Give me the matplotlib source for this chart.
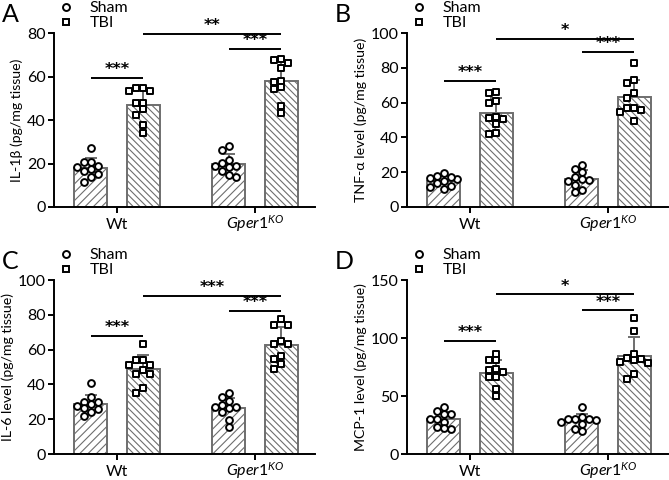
import numpy as np
import matplotlib
matplotlib.use('Agg')
import matplotlib.pyplot as plt
from matplotlib.lines import Line2D

plt.rcParams['font.family'] = ['Lato', 'DejaVu Sans']
plt.rcParams['mathtext.fontset'] = 'custom'
plt.rcParams['mathtext.it'] = 'Lato:italic'
plt.rcParams['mathtext.rm'] = 'Lato'
plt.rcParams['hatch.linewidth'] = 0.8

# =============================================================================
# data, 10 animals per group
# =============================================================================
groups = ['Wt', r'$\mathit{Gper1}^{\mathit{KO}}$']
conditions = ['Sham', 'TBI']
panel_letters = ['A', 'B', 'C', 'D']
ylabels = ['IL-1β (pg/mg tissue)', 'TNF-α level (pg/mg tissue)',
           'IL-6 level (pg/mg tissue)', 'MCP-1 level (pg/mg tissue)']
ymax = [80, 100, 100, 150]
ystep = [20, 20, 20, 50]

il1b_wt_sham = [27.0, 19.0, 18.2, 20.6, 20.6, 15.2, 17.5, 16.7, 13.9, 11.3]
il1b_wt_tbi = [54.9, 53.3, 53.3, 54.9, 47.7, 48.0, 44.9, 42.3, 37.7, 34.2]
il1b_ko_sham = [28.0, 26.2, 20.1, 21.6, 19.0, 18.5, 19.0, 16.7, 13.9, 14.7]
il1b_ko_tbi = [67.9, 66.4, 67.6, 64.1, 57.6, 58.1, 54.3, 55.0, 46.6, 43.1]

tnfa_wt_sham = [16.9, 18.0, 16.1, 19.4, 17.0, 13.6, 12.3, 14.9, 10.3, 11.7]
tnfa_wt_tbi = [65.7, 66.3, 60.0, 60.9, 51.3, 51.9, 50.6, 47.7, 41.8, 42.7]
tnfa_ko_sham = [24.1, 21.8, 20.3, 17.4, 15.1, 15.5, 16.1, 12.6, 8.8, 9.8]
tnfa_ko_tbi = [82.9, 71.4, 73.0, 65.7, 62.8, 57.1, 55.7, 54.8, 56.7, 49.6]

il6_wt_sham = [40.7, 32.6, 30.1, 28.7, 27.4, 30.1, 25.8, 23.9, 26.2, 21.6]
il6_wt_tbi = [63.4, 54.1, 54.1, 51.2, 51.2, 48.4, 45.7, 45.7, 37.8, 34.9]
il6_ko_sham = [34.9, 32.9, 30.3, 28.1, 26.2, 24.3, 26.8, 26.8, 19.7, 15.8]
il6_ko_tbi = [77.3, 74.4, 74.0, 63.4, 64.7, 63.4, 54.7, 56.1, 51.8, 48.9]

mcp1_wt_sham = [40.2, 36.7, 34.4, 34.4, 30.1, 30.6, 27.8, 22.0, 21.4, 23.4]
mcp1_wt_tbi = [86.4, 80.7, 80.7, 72.9, 70.5, 72.0, 66.2, 66.2, 56.1, 49.7]
mcp1_ko_sham = [40.8, 30.6, 31.5, 29.2, 30.6, 30.1, 27.2, 25.7, 21.4, 19.4]
mcp1_ko_tbi = [117.4, 105.8, 80.7, 82.7, 78.3, 82.1, 86.4, 79.2, 69.1, 64.8]

# significance: (Wt sham vs TBI, KO sham vs TBI, Wt TBI vs KO TBI) heights + labels
sig_heights = [[59.5, 72.6, 79.5], [72.6, 89.3, 96.7],
               [67.8, 82.3, 90.9], [97.7, 123.8, 137.6]]
sig_labels = [['***', '***', '**'], ['***', '***', '*'],
              ['***', '***', '***'], ['***', '***', '*']]

panels = [
    [[il1b_wt_sham, il1b_wt_tbi], [il1b_ko_sham, il1b_ko_tbi]],
    [[tnfa_wt_sham, tnfa_wt_tbi], [tnfa_ko_sham, tnfa_ko_tbi]],
    [[il6_wt_sham, il6_wt_tbi], [il6_ko_sham, il6_ko_tbi]],
    [[mcp1_wt_sham, mcp1_wt_tbi], [mcp1_ko_sham, mcp1_ko_tbi]],
]

gray = '#6e6e6e'
hatches = ['////', '\\\\\\\\\\']
markers = ['o', 's']
offset = 0.19
width = 0.24


def swarm_offsets(ax, x, vals, step=0.05, min_px=6.3):
    # simple beeswarm: spread points horizontally when they would overlap
    placed = []
    offs = np.zeros(len(vals))
    order = np.argsort(vals)[::-1]
    for i in order:
        cands = [0]
        for k in range(1, 6):
            cands += [-k * step, k * step]
        for c in cands:
            p = ax.transData.transform((x + c, vals[i]))
            if all(np.hypot(*(p - q)) >= min_px for q in placed):
                offs[i] = c
                placed.append(p)
                break
    return offs


fig = plt.figure(figsize=(6.69, 4.8), dpi=100)
axpos = [[54, 33], [407, 33], [54, 280], [407, 280]]
for n in range(4):
    left, top = axpos[n]
    ax = fig.add_axes([left / 669, (480 - top - 174) / 480, 261 / 669, 174 / 480])
    ax.set_xlim(-0.455, 1.435)
    ax.set_ylim(0, ymax[n])

    for g in range(2):
        for c in range(2):
            vals = np.array(panels[n][g][c])
            x = g + (2 * c - 1) * offset
            m = vals.mean()
            sd = vals.std(ddof=1)
            ax.bar(x, m, width=width, color='white', edgecolor=gray,
                   hatch=hatches[c], linewidth=1.4, zorder=2)
            ax.errorbar(x, m, yerr=[[0], [sd]], color=gray, capsize=4.5,
                        elinewidth=1.4, capthick=1.4, zorder=3)
            offs = swarm_offsets(ax, x, vals)
            ax.scatter(x + offs, vals, marker=markers[c], s=24,
                       facecolor='white', edgecolor='black', linewidth=1.4,
                       zorder=4, clip_on=False)

    # significance lines
    h = sig_heights[n]
    lab = sig_labels[n]
    pairs = [(-offset, offset), (1 - offset, 1 + offset), (offset, 1 + offset)]
    for (x0, x1), yy, s in zip(pairs, h, lab):
        ax.plot([x0, x1], [yy, yy], color='black', lw=1.4, clip_on=False,
                solid_capstyle='butt')
        ax.annotate(s, ((x0 + x1) / 2, yy), xytext=(0, 0.5),
                    textcoords='offset points', ha='center', va='bottom',
                    fontsize=11.5, fontweight='bold', family='DejaVu Sans',
                    annotation_clip=False)

    ax.spines['top'].set_visible(False)
    ax.spines['right'].set_visible(False)
    ax.spines['left'].set_linewidth(1.4)
    ax.spines['bottom'].set_linewidth(1.4)
    ax.set_yticks(np.arange(0, ymax[n] + 1, ystep[n]))
    ax.set_xticks([0, 1])
    ax.set_xticklabels([])
    ax.tick_params(axis='both', width=1.4, length=4.5, labelsize=11.5)
    ax.tick_params(axis='y', pad=1.5)
    # x group labels placed on a shared baseline
    for g in range(2):
        ax.annotate(groups[g], (g, 0), xycoords=('data', 'axes fraction'),
                    xytext=(0, -15.5), textcoords='offset points',
                    ha='center', va='baseline', fontsize=11.5,
                    annotation_clip=False)
    ax.set_ylabel(ylabels[n], fontsize=10.2, labelpad=2.5)

    handles = [Line2D([], [], marker=markers[i], ls='none', mfc='white',
                      mec='black', mew=1.4, ms=5) for i in range(2)]
    ax.legend(handles, conditions, loc='upper left', bbox_to_anchor=(-0.01, 1.22),
              frameon=False, fontsize=11.5, handletextpad=1.0,
              labelspacing=0.05, borderaxespad=0, handlelength=1)

    fig.text((left - 54 + 2) / 669 if n % 2 == 0 else (left - 72) / 669,
             1 - (top - 30) / 480, panel_letters[n], fontsize=18,
             ha='left', va='top')

fig.savefig('out.png', dpi=100)
